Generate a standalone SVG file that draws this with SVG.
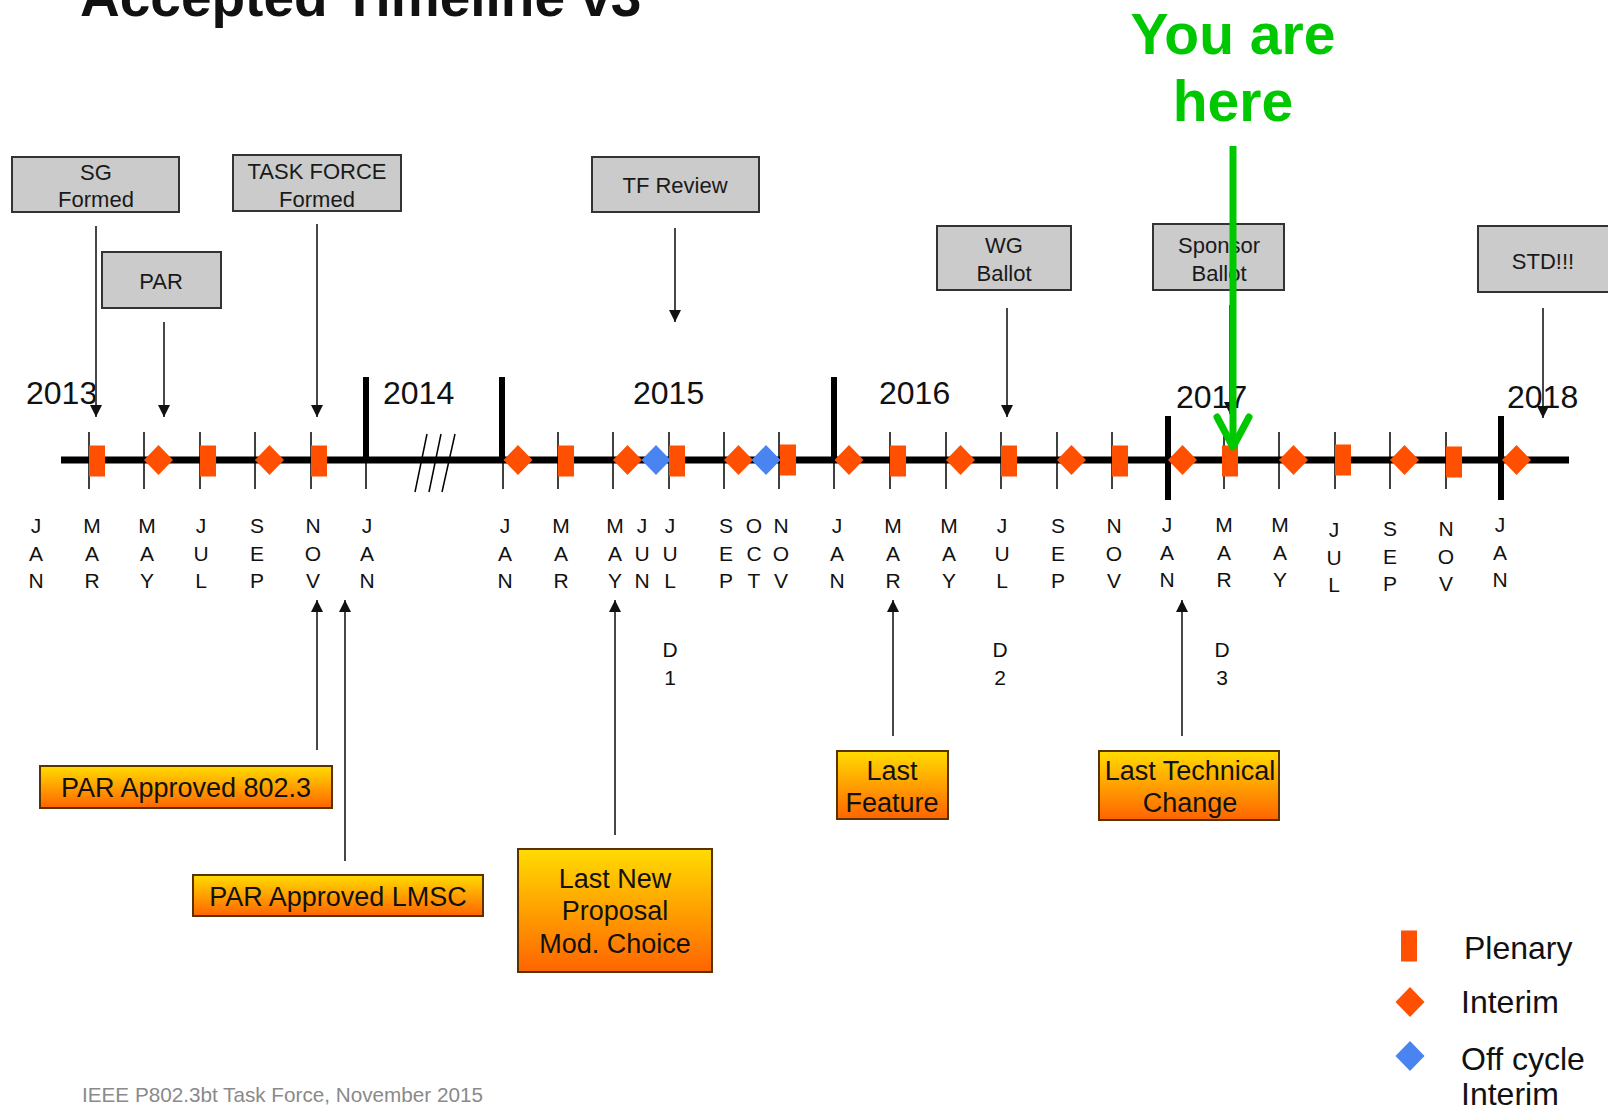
<svg xmlns="http://www.w3.org/2000/svg" xmlns:xlink="http://www.w3.org/1999/xlink" width="1608" height="1110" viewBox="0 0 1608 1110">
<defs>
<style>
text{font-family:"Liberation Sans",Arial,sans-serif;fill:#111}
.title{font-size:55px;font-weight:bold}
.box{fill:#cbcbcb;stroke:#333;stroke-width:2}
.bt{font-size:22px;text-anchor:middle;fill:#1a1a1a}
.ob{fill:url(#og);stroke:#5a3200;stroke-width:2}
.ot{font-size:27px;text-anchor:middle}
.yr{font-size:32px}
.mo{font-size:21px;text-anchor:middle}
.tick{stroke:#000;stroke-width:1.5}
.yl{stroke:#000;stroke-width:6}
.main{stroke:#000;stroke-width:7}
.pl{fill:#ff4f00}
.in{fill:#ff4f00}
.off{fill:#4a84f0}
.arr{stroke:#333;stroke-width:1.8;fill:none;marker-end:url(#ah)}
.green{fill:#00c800;font-size:57px;font-weight:bold;text-anchor:middle}
.leg{font-size:32px}
.foot{font-size:20.7px;fill:#8a8a8a}
</style>
<linearGradient id="og" x1="0" y1="0" x2="0" y2="1">
<stop offset="0" stop-color="#ffdc00"/>
<stop offset="1" stop-color="#ff6400"/>
</linearGradient>
<marker id="ah" viewBox="0 0 12 12" markerWidth="12" markerHeight="12" refX="12" refY="6" orient="auto" markerUnits="userSpaceOnUse">
<path d="M0,0 L12,6 L0,12 Z" fill="#111"/>
</marker>
<path id="dia" d="M-14.5,0 L0,-15 L14.5,0 L0,15 Z"/>
<rect id="plen" x="0" y="-15.5" width="16" height="31"/>
</defs>
<rect width="1608" height="1110" fill="#fff"/>
<text class="title" x="80" y="16">Accepted Timeline v3</text>

<!-- timeline axis -->
<g id="axis">
<line class="main" x1="61" y1="460" x2="1569" y2="460"/>
<g class="tick">
<line x1="89" y1="432" x2="89" y2="489"/>
<line x1="144" y1="432" x2="144" y2="489"/>
<line x1="200" y1="432" x2="200" y2="489"/>
<line x1="255" y1="432" x2="255" y2="489"/>
<line x1="311" y1="432" x2="311" y2="489"/>
<line x1="366" y1="432" x2="366" y2="489"/>
<line x1="503" y1="432" x2="503" y2="489"/>
<line x1="558" y1="432" x2="558" y2="489"/>
<line x1="613" y1="432" x2="613" y2="489"/>
<line x1="669" y1="432" x2="669" y2="489"/>
<line x1="724" y1="432" x2="724" y2="489"/>
<line x1="779" y1="432" x2="779" y2="489"/>
<line x1="834" y1="432" x2="834" y2="489"/>
<line x1="890" y1="432" x2="890" y2="489"/>
<line x1="946" y1="432" x2="946" y2="489"/>
<line x1="1001" y1="432" x2="1001" y2="489"/>
<line x1="1057" y1="432" x2="1057" y2="489"/>
<line x1="1112" y1="432" x2="1112" y2="489"/>
<line x1="1224" y1="432" x2="1224" y2="489"/>
<line x1="1279" y1="432" x2="1279" y2="489"/>
<line x1="1335" y1="432" x2="1335" y2="489"/>
<line x1="1390" y1="432" x2="1390" y2="489"/>
<line x1="1446" y1="432" x2="1446" y2="489"/>
<line x1="415" y1="492" x2="427" y2="434"/>
<line x1="429" y1="492" x2="441" y2="434"/>
<line x1="442" y1="492" x2="455" y2="434"/>
</g>
<g class="yl">
<line x1="366" y1="377" x2="366" y2="461"/>
<line x1="502" y1="377" x2="502" y2="461"/>
<line x1="834" y1="377" x2="834" y2="461"/>
<line x1="1168" y1="416" x2="1168" y2="500"/>
<line x1="1501" y1="416" x2="1501" y2="500"/>
</g>
<text class="yr" x="26" y="404">2013</text>
<text class="yr" x="383" y="404">2014</text>
<text class="yr" x="633" y="404">2015</text>
<text class="yr" x="879" y="404">2016</text>
<text class="yr" x="1176" y="408">2017</text>
<text class="yr" x="1507" y="408">2018</text>
</g>

<!-- meetings -->
<g id="meetings">
<use xlink:href="#dia" x="158.5" y="460" class="in"/>
<use xlink:href="#dia" x="269.5" y="460" class="in"/>
<use xlink:href="#dia" x="518" y="460" class="in"/>
<use xlink:href="#dia" x="627.5" y="460" class="in"/>
<use xlink:href="#dia" x="738.5" y="460" class="in"/>
<use xlink:href="#dia" x="849" y="460" class="in"/>
<use xlink:href="#dia" x="960.5" y="460" class="in"/>
<use xlink:href="#dia" x="1071.5" y="460" class="in"/>
<use xlink:href="#dia" x="1182.5" y="460" class="in"/>
<use xlink:href="#dia" x="1293.5" y="460" class="in"/>
<use xlink:href="#dia" x="1404.5" y="460" class="in"/>
<use xlink:href="#dia" x="1516.5" y="460" class="in"/>
<use xlink:href="#dia" x="656" y="460" class="off"/>
<use xlink:href="#dia" x="766" y="460" class="off"/>
<use xlink:href="#plen" x="89" y="461" class="pl"/>
<use xlink:href="#plen" x="200" y="461" class="pl"/>
<use xlink:href="#plen" x="311" y="461" class="pl"/>
<use xlink:href="#plen" x="558" y="461" class="pl"/>
<use xlink:href="#plen" x="669" y="461" class="pl"/>
<use xlink:href="#plen" x="780" y="460" class="pl"/>
<use xlink:href="#plen" x="890" y="461" class="pl"/>
<use xlink:href="#plen" x="1001" y="461" class="pl"/>
<use xlink:href="#plen" x="1112" y="461" class="pl"/>
<use xlink:href="#plen" x="1222" y="461" class="pl"/>
<use xlink:href="#plen" x="1335" y="460" class="pl"/>
<use xlink:href="#plen" x="1446" y="462" class="pl"/>
</g>

<!-- month labels -->
<g id="months" class="mo">
<text class="mo" x="36" y="533">J<tspan x="36" dy="28">A</tspan><tspan x="36" dy="27">N</tspan></text>
<text class="mo" x="92" y="533">M<tspan x="92" dy="28">A</tspan><tspan x="92" dy="27">R</tspan></text>
<text class="mo" x="147" y="533">M<tspan x="147" dy="28">A</tspan><tspan x="147" dy="27">Y</tspan></text>
<text class="mo" x="201" y="533">J<tspan x="201" dy="28">U</tspan><tspan x="201" dy="27">L</tspan></text>
<text class="mo" x="257" y="533">S<tspan x="257" dy="28">E</tspan><tspan x="257" dy="27">P</tspan></text>
<text class="mo" x="313" y="533">N<tspan x="313" dy="28">O</tspan><tspan x="313" dy="27">V</tspan></text>
<text class="mo" x="367" y="533">J<tspan x="367" dy="28">A</tspan><tspan x="367" dy="27">N</tspan></text>
<text class="mo" x="505" y="533">J<tspan x="505" dy="28">A</tspan><tspan x="505" dy="27">N</tspan></text>
<text class="mo" x="561" y="533">M<tspan x="561" dy="28">A</tspan><tspan x="561" dy="27">R</tspan></text>
<text class="mo" x="615" y="533">M<tspan x="615" dy="28">A</tspan><tspan x="615" dy="27">Y</tspan></text>
<text class="mo" x="642" y="533">J<tspan x="642" dy="28">U</tspan><tspan x="642" dy="27">N</tspan></text>
<text class="mo" x="670" y="533">J<tspan x="670" dy="28">U</tspan><tspan x="670" dy="27">L</tspan></text>
<text class="mo" x="726" y="533">S<tspan x="726" dy="28">E</tspan><tspan x="726" dy="27">P</tspan></text>
<text class="mo" x="754" y="533">O<tspan x="754" dy="28">C</tspan><tspan x="754" dy="27">T</tspan></text>
<text class="mo" x="781" y="533">N<tspan x="781" dy="28">O</tspan><tspan x="781" dy="27">V</tspan></text>
<text class="mo" x="837" y="533">J<tspan x="837" dy="28">A</tspan><tspan x="837" dy="27">N</tspan></text>
<text class="mo" x="893" y="533">M<tspan x="893" dy="28">A</tspan><tspan x="893" dy="27">R</tspan></text>
<text class="mo" x="949" y="533">M<tspan x="949" dy="28">A</tspan><tspan x="949" dy="27">Y</tspan></text>
<text class="mo" x="1002" y="533">J<tspan x="1002" dy="28">U</tspan><tspan x="1002" dy="27">L</tspan></text>
<text class="mo" x="1058" y="533">S<tspan x="1058" dy="28">E</tspan><tspan x="1058" dy="27">P</tspan></text>
<text class="mo" x="1114" y="533">N<tspan x="1114" dy="28">O</tspan><tspan x="1114" dy="27">V</tspan></text>
<text class="mo" x="1167" y="532">J<tspan x="1167" dy="28">A</tspan><tspan x="1167" dy="27">N</tspan></text>
<text class="mo" x="1224" y="532">M<tspan x="1224" dy="28">A</tspan><tspan x="1224" dy="27">R</tspan></text>
<text class="mo" x="1280" y="532">M<tspan x="1280" dy="28">A</tspan><tspan x="1280" dy="27">Y</tspan></text>
<text class="mo" x="1334" y="537">J<tspan x="1334" dy="28">U</tspan><tspan x="1334" dy="27">L</tspan></text>
<text class="mo" x="1390" y="536">S<tspan x="1390" dy="28">E</tspan><tspan x="1390" dy="27">P</tspan></text>
<text class="mo" x="1446" y="536">N<tspan x="1446" dy="28">O</tspan><tspan x="1446" dy="27">V</tspan></text>
<text class="mo" x="1500" y="532">J<tspan x="1500" dy="28">A</tspan><tspan x="1500" dy="27">N</tspan></text>
<text class="mo" x="670" y="657">D<tspan x="670" dy="28">1</tspan></text>
<text class="mo" x="1000" y="657">D<tspan x="1000" dy="28">2</tspan></text>
<text class="mo" x="1222" y="657">D<tspan x="1222" dy="28">3</tspan></text>
</g>

<!-- top milestone boxes -->
<g id="sg-formed"><rect class="box" x="12" y="157" width="167" height="55"/><text class="bt" x="96" y="180">SG</text><text class="bt" x="96" y="207">Formed</text></g>
<g id="par"><rect class="box" x="102" y="252" width="119" height="56"/><text class="bt" x="161" y="289">PAR</text></g>
<g id="tf-formed"><rect class="box" x="233" y="155" width="168" height="56"/><text class="bt" x="317" y="179">TASK FORCE</text><text class="bt" x="317" y="207">Formed</text></g>
<g id="tf-review"><rect class="box" x="592" y="157" width="167" height="55"/><text class="bt" x="675" y="193">TF Review</text></g>
<g id="wg-ballot"><rect class="box" x="937" y="226" width="134" height="64"/><text class="bt" x="1004" y="253">WG</text><text class="bt" x="1004" y="281">Ballot</text></g>
<g id="sponsor-ballot"><rect class="box" x="1153" y="224" width="131" height="66"/><text class="bt" x="1219" y="253">Sponsor</text><text class="bt" x="1219" y="281">Ballot</text></g>
<g id="std"><rect class="box" x="1478" y="226" width="140" height="66"/><text class="bt" x="1543" y="269">STD!!!</text></g>

<!-- bottom milestone boxes -->
<g id="par-802-3"><rect class="ob" x="40" y="766" width="292" height="42"/><text class="ot" x="186" y="797">PAR Approved 802.3</text></g>
<g id="par-lmsc"><rect class="ob" x="193" y="875" width="290" height="41"/><text class="ot" x="338" y="906">PAR Approved LMSC</text></g>
<g id="last-new-proposal"><rect class="ob" x="518" y="849" width="194" height="123"/><text class="ot" x="615" y="888">Last New</text><text class="ot" x="615" y="920">Proposal</text><text class="ot" x="615" y="953">Mod. Choice</text></g>
<g id="last-feature"><rect class="ob" x="837" y="751" width="111" height="68"/><text class="ot" x="892" y="780">Last</text><text class="ot" x="892" y="812">Feature</text></g>
<g id="last-technical-change"><rect class="ob" x="1099" y="751" width="180" height="69"/><text class="ot" x="1190" y="780">Last Technical</text><text class="ot" x="1190" y="812">Change</text></g>

<!-- connectors -->
<g id="connectors">
<line class="arr" x1="96" y1="226" x2="96" y2="417"/>
<line class="arr" x1="164" y1="322" x2="164" y2="417"/>
<line class="arr" x1="317" y1="224" x2="317" y2="417"/>
<line class="arr" x1="675" y1="228" x2="675" y2="322"/>
<line class="arr" x1="1007" y1="308" x2="1007" y2="417"/>
<line class="arr" x1="1230" y1="305" x2="1230" y2="414"/>
<line class="arr" x1="1543" y1="308" x2="1543" y2="418"/>
<line class="arr" x1="317" y1="750" x2="317" y2="600"/>
<line class="arr" x1="345" y1="861" x2="345" y2="600"/>
<line class="arr" x1="615" y1="835" x2="615" y2="600"/>
<line class="arr" x1="893" y1="736" x2="893" y2="600"/>
<line class="arr" x1="1182" y1="736" x2="1182" y2="600"/>
</g>

<!-- legend -->
<g id="legend">
<use xlink:href="#plen" x="1401" y="946" class="pl"/>
<text class="leg" x="1464" y="959">Plenary</text>
<use xlink:href="#dia" x="1410" y="1002" class="in"/>
<text class="leg" x="1461" y="1013">Interim</text>
<use xlink:href="#dia" x="1410" y="1056" class="off"/>
<text class="leg" x="1461" y="1070">Off cycle</text>
<text class="leg" x="1461" y="1105">Interim</text>
</g>

<text class="foot" x="82" y="1102">IEEE P802.3bt Task Force, November 2015</text>

<!-- you are here -->
<g id="you-are-here">
<text class="green" x="1233" y="54">You are</text>
<text class="green" x="1233" y="121">here</text>
<line x1="1233" y1="146" x2="1233" y2="446" stroke="#00c800" stroke-width="7"/>
<polyline points="1217,417 1233,447 1249,417" fill="none" stroke="#00c800" stroke-width="7" stroke-linecap="round" stroke-linejoin="round"/>
</g>
</svg>
